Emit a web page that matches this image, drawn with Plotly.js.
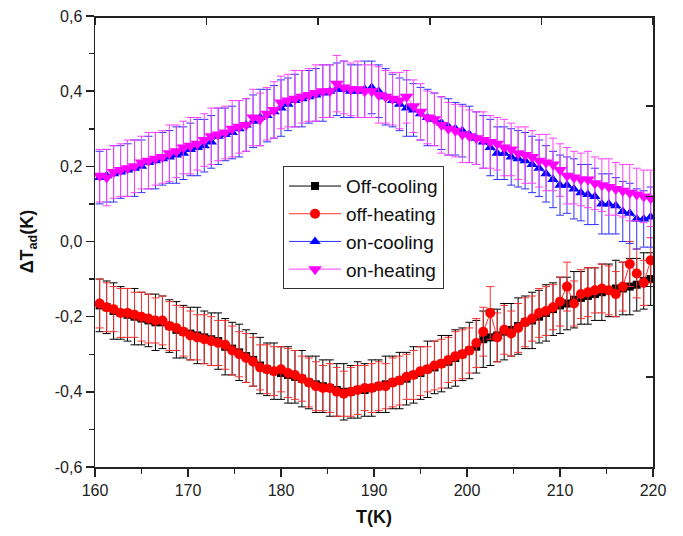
<!DOCTYPE html>
<html>
<head>
<meta charset="utf-8">
<script src="https://cdn.plot.ly/plotly-3.0.1.min.js"></script>
<style>html,body{margin:0;padding:0;background:#fff;}#chart{width:683px;height:536px;}</style>
</head>
<body>
<div id="chart"></div>
<script>
// Temperature (K)
var T = [160.5,161.25,162,162.75,163.5,164.25,165,165.75,166.5,167.25,168,168.75,169.5,170.25,171,171.75,172.5,173.25,174,174.75,
175.5,176.25,177,177.75,178.5,179.25,180,180.75,181.5,182.25,183,183.75,184.5,185.25,186,186.75,187.5,188.25,189,189.75,
190.5,191.25,192,192.75,193.5,194.25,195,195.75,196.5,197.25,198,198.75,199.5,200.25,201,201.75,202.5,203.25,204,204.75,
205.5,206.25,207,207.75,208.5,209.25,210,210.75,211.5,212.25,213,213.75,214.5,215.25,216,216.75,217.5,218.25,219,219.75];

var offCooling = [-0.17,-0.175,-0.185,-0.19,-0.195,-0.2,-0.205,-0.21,-0.215,-0.215,-0.225,-0.235,-0.24,-0.245,-0.25,-0.255,-0.26,-0.265,-0.28,-0.285,
-0.295,-0.305,-0.315,-0.33,-0.34,-0.345,-0.35,-0.355,-0.36,-0.365,-0.375,-0.38,-0.385,-0.39,-0.395,-0.4,-0.4,-0.395,-0.395,-0.39,
-0.385,-0.38,-0.375,-0.37,-0.365,-0.355,-0.35,-0.34,-0.335,-0.325,-0.32,-0.31,-0.3,-0.29,-0.28,-0.26,-0.255,-0.25,-0.24,-0.235,
-0.225,-0.215,-0.21,-0.2,-0.19,-0.18,-0.17,-0.165,-0.155,-0.15,-0.145,-0.14,-0.135,-0.13,-0.125,-0.125,-0.12,-0.115,-0.105,-0.1];
var offCoolingErr = [0.07,0.07,0.075,0.07,0.07,0.075,0.07,0.07,0.075,0.07,0.07,0.075,0.07,0.07,0.075,0.07,0.07,0.075,0.075,0.07,
0.075,0.07,0.07,0.075,0.07,0.075,0.07,0.075,0.07,0.075,0.07,0.075,0.07,0.075,0.07,0.075,0.07,0.075,0.07,0.075,
0.07,0.075,0.07,0.075,0.07,0.075,0.07,0.075,0.07,0.075,0.07,0.075,0.07,0.075,0.07,0.075,0.075,0.07,0.075,0.07,
0.075,0.07,0.075,0.07,0.075,0.07,0.075,0.07,0.075,0.07,0.075,0.07,0.075,0.07,0.075,0.07,0.075,0.07,0.075,0.07];

var offHeating = [-0.165,-0.175,-0.18,-0.19,-0.19,-0.195,-0.2,-0.205,-0.21,-0.21,-0.225,-0.23,-0.24,-0.25,-0.255,-0.26,-0.265,-0.27,-0.275,-0.29,
-0.3,-0.31,-0.32,-0.335,-0.34,-0.345,-0.34,-0.35,-0.355,-0.365,-0.375,-0.385,-0.39,-0.39,-0.4,-0.405,-0.4,-0.395,-0.39,-0.39,
-0.385,-0.385,-0.375,-0.37,-0.36,-0.355,-0.345,-0.34,-0.33,-0.325,-0.315,-0.305,-0.3,-0.29,-0.27,-0.24,-0.19,-0.255,-0.235,-0.245,
-0.23,-0.215,-0.205,-0.19,-0.185,-0.175,-0.16,-0.12,-0.165,-0.14,-0.135,-0.13,-0.125,-0.13,-0.14,-0.12,-0.06,-0.085,-0.11,-0.05];
var offHeatingErr = [0.065,0.065,0.06,0.065,0.065,0.06,0.065,0.065,0.06,0.065,0.065,0.06,0.065,0.065,0.06,0.065,0.065,0.06,0.065,0.065,
0.06,0.065,0.065,0.06,0.065,0.065,0.06,0.065,0.065,0.06,0.065,0.065,0.06,0.065,0.065,0.06,0.065,0.065,0.06,0.065,
0.065,0.06,0.065,0.065,0.06,0.065,0.065,0.06,0.065,0.065,0.06,0.065,0.065,0.06,0.065,0.065,0.07,0.065,0.065,0.06,
0.065,0.065,0.06,0.065,0.065,0.06,0.065,0.065,0.06,0.065,0.065,0.06,0.065,0.065,0.06,0.065,0.06,0.065,0.06,0.06];

var onCooling = [0.17,0.175,0.18,0.185,0.19,0.195,0.2,0.21,0.215,0.22,0.225,0.23,0.235,0.245,0.25,0.255,0.265,0.28,0.285,0.29,
0.3,0.31,0.32,0.33,0.335,0.345,0.355,0.365,0.375,0.38,0.385,0.39,0.395,0.4,0.405,0.405,0.4,0.4,0.405,0.41,
0.4,0.385,0.375,0.365,0.355,0.35,0.34,0.33,0.325,0.315,0.305,0.3,0.295,0.285,0.275,0.265,0.25,0.235,0.235,0.225,
0.22,0.215,0.205,0.195,0.18,0.165,0.15,0.15,0.14,0.13,0.125,0.12,0.1,0.1,0.095,0.08,0.075,0.06,0.06,0.065];
var onCoolingErr = [0.07,0.07,0.075,0.07,0.07,0.075,0.07,0.07,0.075,0.07,0.07,0.075,0.07,0.07,0.075,0.07,0.07,0.075,0.07,0.07,
0.075,0.07,0.07,0.075,0.07,0.07,0.075,0.07,0.07,0.075,0.07,0.07,0.075,0.07,0.07,0.075,0.07,0.07,0.075,0.07,
0.07,0.075,0.07,0.07,0.075,0.07,0.07,0.075,0.07,0.07,0.075,0.07,0.07,0.075,0.07,0.07,0.075,0.07,0.07,0.075,
0.075,0.075,0.075,0.075,0.075,0.075,0.08,0.075,0.08,0.075,0.08,0.075,0.08,0.08,0.075,0.08,0.08,0.08,0.075,0.08];

var onHeating = [0.175,0.17,0.185,0.19,0.195,0.2,0.21,0.215,0.22,0.225,0.235,0.24,0.25,0.255,0.26,0.27,0.28,0.285,0.29,0.3,
0.305,0.31,0.33,0.325,0.34,0.35,0.37,0.375,0.38,0.385,0.39,0.395,0.4,0.4,0.42,0.41,0.405,0.405,0.4,0.4,
0.39,0.385,0.38,0.375,0.385,0.36,0.345,0.33,0.325,0.31,0.3,0.295,0.285,0.28,0.275,0.27,0.265,0.26,0.25,0.245,
0.235,0.23,0.225,0.215,0.21,0.205,0.19,0.175,0.17,0.165,0.165,0.155,0.15,0.145,0.14,0.135,0.13,0.125,0.12,0.115];
var onHeatingErr = [0.07,0.075,0.07,0.07,0.075,0.07,0.07,0.075,0.07,0.07,0.075,0.07,0.07,0.075,0.07,0.07,0.075,0.07,0.07,0.075,
0.07,0.07,0.075,0.07,0.07,0.075,0.07,0.07,0.075,0.07,0.07,0.075,0.07,0.07,0.075,0.07,0.07,0.075,0.07,0.07,
0.075,0.07,0.07,0.075,0.07,0.07,0.075,0.07,0.07,0.075,0.07,0.07,0.075,0.07,0.07,0.075,0.07,0.07,0.075,0.07,
0.07,0.075,0.07,0.07,0.075,0.07,0.07,0.075,0.07,0.07,0.075,0.07,0.07,0.075,0.07,0.07,0.075,0.07,0.07,0.075];

var yTickVals = [-0.6,-0.4,-0.2,0,0.2,0.4,0.6];
var yTickText = ["-0,6","-0,4","-0,2","0,0","0,2","0,4","0,6"];
var xTickVals = [160,170,180,190,200,210,220];
var frameTickVals = [0,1,2,3,4,5];
var seriesNames = ["Off-cooling","off-heating","on-cooling","on-heating"];

function series(name, y, err, color, lineColor, symbol, size) {
  return {
    x: T, y: y, name: name, type: 'scatter', mode: 'lines+markers',
    line: {color: lineColor, width: 1},
    marker: {color: color, symbol: symbol, size: size},
    error_y: {type: 'data', array: err, visible: true, color: lineColor, thickness: 1, width: 4}
  };
}

var data = [
  series(seriesNames[0], offCooling, offCoolingErr, '#000000', '#000000', 'square', 8),
  series(seriesNames[1], offHeating, offHeatingErr, '#ff0000', '#ff3030', 'circle', 10),
  series(seriesNames[2], onCooling, onCoolingErr, '#0000ff', '#3030ff', 'triangle-up', 10),
  series(seriesNames[3], onHeating, onHeatingErr, '#ff00ff', '#ff40ff', 'triangle-down', 12),
  // empty helper traces so the top/right frame axes are active
  {x: [], y: [], xaxis: 'x2', yaxis: 'y', type: 'scatter', mode: 'markers', showlegend: false, hoverinfo: 'skip'},
  {x: [], y: [], xaxis: 'x', yaxis: 'y2', type: 'scatter', mode: 'markers', showlegend: false, hoverinfo: 'skip'}
];

var font = {family: '"Liberation Sans", Arial, sans-serif', color: '#1a1a1a'};

var layout = {
  width: 683, height: 536,
  margin: {l: 95, r: 30, t: 16, b: 69},
  paper_bgcolor: '#ffffff', plot_bgcolor: '#ffffff',
  font: font,
  showlegend: true,
  legend: {
    x: 0.337, y: 0.667, xanchor: 'left', yanchor: 'top',
    bgcolor: '#ffffff', bordercolor: '#333333', borderwidth: 1,
    font: {family: font.family, size: 19, color: '#111'},
    itemwidth: 52, tracegroupgap: 0
  },
  xaxis: {
    type: 'linear', range: [160, 220], tickvals: xTickVals, ticks: 'outside', ticklen: 8, tickwidth: 1.5, tickcolor: '#222',
    showline: true, linecolor: '#222', linewidth: 1.5, showgrid: false, zeroline: false,
    tickfont: {family: font.family, size: 16, color: '#222'},
    minor: {dtick: 5, ticks: 'outside', ticklen: 5, tickwidth: 1.5, tickcolor: '#222', showgrid: false},
    title: {text: '<b>T(K)</b>', font: {family: font.family, size: 18, color: '#111'}, standoff: 12}
  },
  yaxis: {
    type: 'linear', range: [-0.6, 0.6], tickvals: yTickVals, ticktext: yTickText, ticks: 'outside', ticklen: 8, tickwidth: 1.5, tickcolor: '#222',
    showline: true, linecolor: '#222', linewidth: 1.5, showgrid: false, zeroline: false,
    tickfont: {family: font.family, size: 16, color: '#222'},
    minor: {dtick: 0.1, ticks: 'outside', ticklen: 5, tickwidth: 1.5, tickcolor: '#222', showgrid: false},
    title: {text: '<b>ΔT<sub>ad</sub>(K)</b>', font: {family: font.family, size: 18, color: '#111'}, standoff: 16}
  },
  xaxis2: {
    type: 'linear', overlaying: 'x', side: 'bottom', anchor: 'free', position: 1, automargin: false,
    range: [0, 5], tickvals: frameTickVals, ticks: 'outside', ticklen: 7, tickwidth: 1.5, tickcolor: '#222',
    showticklabels: false, showline: true, linecolor: '#222', linewidth: 1.5, showgrid: false, zeroline: false
  },
  yaxis2: {
    type: 'linear', overlaying: 'y', side: 'right', anchor: 'x', range: [0, 5], tickvals: frameTickVals, ticks: 'inside', ticklen: 7, tickwidth: 1.5, tickcolor: '#222',
    showticklabels: false, showline: true, linecolor: '#222', linewidth: 1.5, showgrid: false, zeroline: false
  }
};

Plotly.newPlot('chart', data, layout, {displayModeBar: false, staticPlot: true});
</script>
</body>
</html>
